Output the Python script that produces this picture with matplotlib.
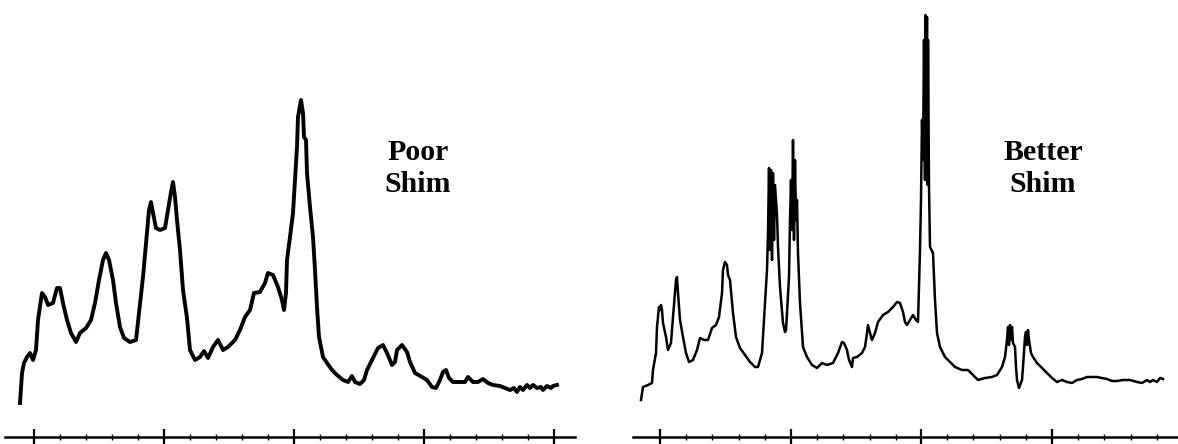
import matplotlib
matplotlib.use("Agg")
import matplotlib.pyplot as plt
from matplotlib.ticker import FixedLocator

# == DATOS (trazados a mano del espectro: canal, profundidad desde arriba) ==
poor_ch = [20, 22, 24, 27, 30, 33, 36, 38, 42, 45, 48, 53, 57, 60, 63, 67, 71, 76, 80, 86,
           91, 95, 99, 103, 106, 109, 113, 116, 120, 124, 130, 136, 139, 143, 146, 149, 151, 153, 156, 160,
           165, 168, 171, 173, 175, 177, 180, 183, 187, 190, 195, 200, 204, 208, 213, 218, 223, 228, 235, 240,
           245, 250, 254, 260, 265, 268, 273, 278, 282, 284, 286, 287, 290, 293, 295, 297, 298, 301, 303, 304,
           306, 307, 310, 313, 315, 317, 319, 323, 327, 332, 337, 343, 348, 352, 355, 360, 364, 367, 373, 378,
           383, 387, 392, 395, 397, 402, 407, 410, 415, 422, 427, 432, 436, 440, 443, 446, 449, 453, 460, 465,
           468, 473, 478, 483, 488, 493, 500, 505, 510, 514, 517, 520, 523, 527, 530, 533, 537, 541, 543, 547,
           551, 553, 557]
poor_depth = [403, 373, 363, 357, 353, 360, 350, 320, 293, 297, 305, 303, 288, 288, 303, 320, 333, 342, 333, 328,
              320, 303, 280, 260, 253, 260, 280, 303, 327, 338, 342, 340, 313, 277, 243, 210, 202, 213, 228, 230,
              228, 210, 192, 182, 197, 220, 250, 290, 318, 350, 360, 357, 351, 358, 347, 340, 350, 347, 340, 330,
              317, 310, 293, 292, 283, 273, 275, 287, 300, 310, 293, 260, 237, 213, 180, 147, 117, 100, 113, 137,
              140, 173, 207, 237, 270, 307, 337, 357, 363, 370, 375, 380, 382, 376, 382, 384, 380, 370, 358, 348,
              345, 353, 365, 362, 350, 345, 352, 362, 373, 377, 380, 387, 388, 380, 372, 370, 378, 382, 382, 382,
              377, 382, 382, 379, 383, 385, 386, 388, 390, 388, 392, 387, 390, 385, 388, 385, 388, 387, 390, 386,
              388, 386, 385]

better_ch = [641, 643, 648, 652, 653, 656, 657, 659, 660, 661, 662, 663, 666, 668, 671, 673, 675, 676, 677, 678,
             680, 683, 686, 689, 693, 697, 700, 704, 708, 712, 716, 719, 722, 723, 725, 727, 728, 730, 733, 736,
             740, 745, 750, 755, 758, 762, 764, 767, 768, 769, 770, 771, 772, 773, 774, 775, 776, 777, 778, 780,
             783, 785, 786, 787, 789, 790, 791, 792, 793, 794, 795, 796, 797, 798, 800, 803, 807, 812, 817, 822,
             827, 833, 838, 842, 844, 847, 849, 852, 853, 857, 862, 865, 867, 868, 870, 872, 875, 878, 883, 888,
             893, 897, 900, 903, 905, 907, 910, 913, 916, 918, 920, 921, 922, 923, 924, 925, 925.5, 926, 927, 927.5,
             928, 929, 930, 933, 935, 937, 940, 945, 950, 955, 962, 968, 973, 978, 985, 992, 997, 1002, 1005, 1007,
             1008, 1009, 1010, 1011, 1012, 1013, 1015, 1016, 1017, 1019, 1022, 1023, 1025, 1026, 1027, 1028, 1029, 1031, 1033, 1037,
             1042, 1047, 1052, 1057, 1062, 1067, 1072, 1077, 1082, 1087, 1092, 1097, 1102, 1107, 1112, 1117, 1123, 1130, 1137, 1142,
             1147, 1150, 1153, 1157, 1160, 1163]
better_depth = [400, 387, 385, 383, 370, 353, 327, 307, 310, 305, 310, 323, 337, 350, 343, 317, 293, 280, 277, 293,
                320, 337, 353, 362, 360, 350, 338, 340, 340, 328, 325, 317, 293, 270, 262, 265, 275, 280, 313, 337,
                348, 355, 362, 367, 367, 353, 320, 270, 233, 168, 250, 170, 260, 173, 240, 185, 200, 215, 247, 287,
                323, 332, 330, 313, 277, 220, 180, 230, 140, 240, 160, 220, 200, 253, 303, 347, 357, 365, 368, 363,
                365, 363, 353, 342, 343, 350, 360, 367, 358, 357, 353, 347, 333, 325, 333, 340, 333, 322, 315, 312,
                307, 302, 303, 312, 322, 325, 320, 315, 320, 322, 250, 200, 120, 160, 40, 180, 15, 170, 17, 185,
                40, 187, 247, 253, 300, 333, 347, 357, 362, 367, 370, 370, 375, 380, 378, 377, 375, 367, 357, 340,
                327, 345, 325, 340, 327, 343, 347, 367, 380, 388, 380, 367, 337, 332, 345, 330, 340, 353, 357, 363,
                368, 373, 378, 382, 380, 382, 383, 380, 379, 377, 377, 377, 378, 379, 381, 381, 380, 380, 382, 383,
                380, 382, 380, 382, 378, 379]

# intensidad = 400 - profundidad (pixeles de la figura original)
poor_int = [400 - d for d in poor_depth]
better_int = [400 - d for d in better_depth]

poor_ticks = [34, 164, 294, 424, 554]
better_ticks = [660, 791, 921, 1052, 1182]

W, H = 1178, 444
fig = plt.figure(figsize=(W / 100, H / 100), dpi=100)
plt.rcParams["font.family"] = ["Liberation Serif", "DejaVu Serif"]

ax_poor = fig.add_axes([0, 0, 0.5, 1])
ax_better = fig.add_axes([0.5, 0, 0.5, 1])


def estilo(ax, ticks, xlim, bounds):
    ax.set_xlim(*xlim)
    ax.set_ylim(-44, 400)
    ax.patch.set_alpha(0)
    for side in ["top", "left", "right"]:
        ax.spines[side].set_visible(False)
    sp = ax.spines["bottom"]
    sp.set_position(("data", -37))
    sp.set_bounds(*bounds)
    sp.set_linewidth(1.8)
    ax.set_yticks([])
    step = ticks[1] - ticks[0]
    ax.xaxis.set_major_locator(FixedLocator(ticks))
    minors = [t + step * k / 5 for t in ticks[:-1] for k in range(1, 5)]
    ax.xaxis.set_minor_locator(FixedLocator(minors))
    ax.tick_params(axis="x", which="major", direction="inout", length=11, width=1.6, labelbottom=False)
    ax.tick_params(axis="x", which="minor", direction="inout", length=4, width=1.0)


estilo(ax_poor, poor_ticks, (0, 589), (5, 575))
estilo(ax_better, better_ticks, (589, 1178), (633, 1178))

ax_poor.plot(poor_ch, poor_int, color="black", lw=2.8, solid_joinstyle="round")
ax_better.plot(better_ch, better_int, color="black", lw=1.8, solid_joinstyle="round")

# va="baseline" en texto de varias lineas se alinea con la ultima linea
ax_poor.text(418, 208, "Poor\nShim", ha="center", va="baseline", fontsize=21.5,
             fontweight="bold", linespacing=1.25)
ax_better.text(1043, 208, "Better\nShim", ha="center", va="baseline", fontsize=21.5,
               fontweight="bold", linespacing=1.25)

fig.savefig("out.png", dpi=100)
